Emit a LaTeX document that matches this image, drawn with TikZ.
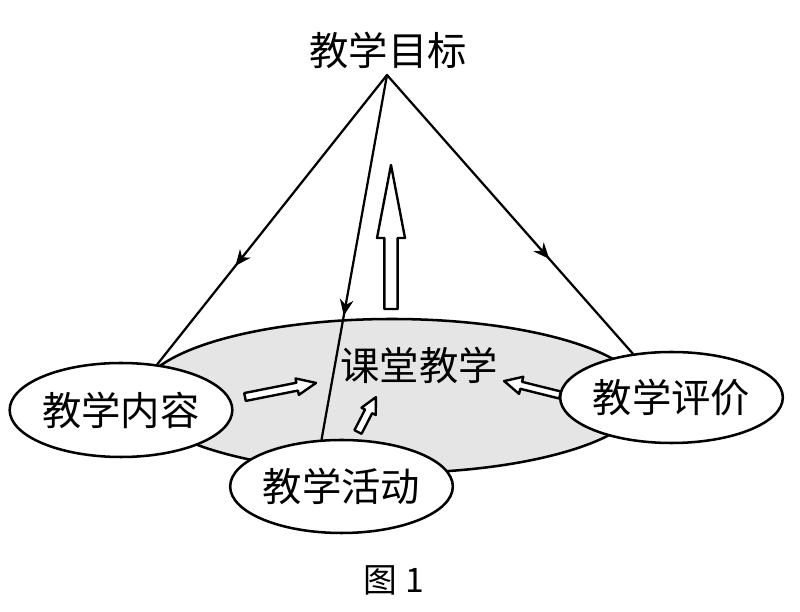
\documentclass[tikz,border=0pt]{standalone}
\usepackage{fontspec}
\newfontfamily\cjk{Noto Sans CJK SC}
\usetikzlibrary{arrows.meta,decorations.markings,shapes.geometric}

\begin{document}
\begin{tikzpicture}[
  line cap=round,
  line join=round,
  link/.style={line width=1.6pt,postaction={decorate},
    decoration={markings,
      mark=at position 0.66 with {\arrow{Stealth[length=4mm,width=3.4mm]}}}},
  oval/.style={ellipse,draw,line width=1.8pt,fill=white,inner sep=0pt},
  hollow/.style={draw,line width=1.7pt,fill=white},
  label text/.style={font=\cjk\fontsize{28}{30}\selectfont}
]

% Page frame: 800 x 612 px at 0.025 cm per px.
\useasboundingbox (0,0) rectangle (20,15.3);

% Hollow block arrow: tail, angle, length, half shaft, half head, head length.
\newcommand{\HollowArrow}[6]{%
  \begin{scope}[shift={#1},rotate=#2]
    \path[hollow] (0,-#4) -- ({#3-#6},-#4) -- ({#3-#6},-#5) -- (#3,0)
      -- ({#3-#6},#5) -- ({#3-#6},#4) -- (0,#4) -- cycle;
  \end{scope}%
}

% Classroom teaching: the grey base.
\node[oval,fill=gray!20,minimum width=12.6cm,minimum height=3.85cm]
  (class) at (9.8,5.4) {};
\node[label text] (classlabel) at (10.475,6.175) {课堂教学};

% Goal at the apex.
\node[label text] (goal) at (9.7,14.05) {教学目标};
\coordinate (apex) at (9.675,13.425);

% The three elements.
\node[oval,label text,minimum width=5.45cm,minimum height=2.35cm]
  (content) at (3.025,5.05) {教学内容};
\node[oval,label text,minimum width=5.425cm,minimum height=2.325cm]
  (activity) at (8.5375,3.1375) {教学活动};
\node[oval,label text,minimum width=5.425cm,minimum height=2.275cm]
  (evaluation) at (16.7875,5.3625) {教学评价};

% Goal lines.
\draw[link] (apex) -- (content);
\draw[link] (apex) -- (activity.113);
\draw[link] (apex) -- (evaluation);

% Hollow arrows into classroom teaching, and up to the goal.
\HollowArrow{(9.775,7.575)}{90}{3.6}{0.165}{0.35}{1.825}
\HollowArrow{(6.125,5.375)}{11.2}{1.81}{0.1}{0.21}{0.48}
\HollowArrow{(8.95,4.5)}{62.8}{0.98}{0.1}{0.2}{0.4}
\HollowArrow{(14.0,5.425)}{166}{1.44}{0.09}{0.22}{0.44}

% Caption.
\node[font=\cjk\fontsize{24}{28}\selectfont] (caption) at (9.85,0.8) {图 1};

\end{tikzpicture}
\end{document}
